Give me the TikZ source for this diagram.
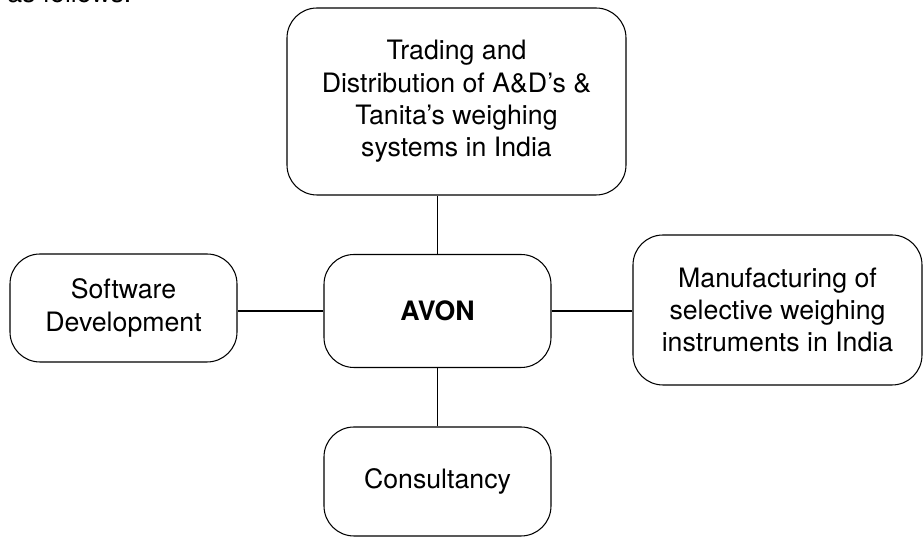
\documentclass[tikz,border=0pt]{standalone}
\usepackage{fontspec}
\setmainfont{TeX Gyre Heros}
\begin{document}
\begin{tikzpicture}[
		box/.style={draw,rectangle,rounded corners=0.6cm,line width=0.6pt,align=center,font=\fontsize{15.2}{18.4}\selectfont},
		link/.style={line width=0.6pt}
		]
	\useasboundingbox (0,0) rectangle (18.46,10.74);

	% Bevezeto szoveg (levagva)
	\node[anchor=base west,inner sep=0pt,font=\fontsize{15.2}{18}\selectfont] (intro) at (0.14,10.69) {as follows:};

	% Kozponti doboz
	% ----------------------
	\node[box, minimum height=2.26cm,minimum width=4.54cm] (AVON) at (8.75,4.52) {\textbf{AVON}};

	% Tevekenysegek
	% ----------------------

		% Kereskedelem
		\node[box, minimum height=3.74cm,minimum width=6.78cm] (Trade) at (9.13,8.71) {Trading and\\ Distribution of A\&D’s \&\\ Tanita’s weighing\\ systems in India};

		% Szoftver
		\node[box, minimum height=2.16cm,minimum width=4.54cm] (Soft) at (2.47,4.58) {Software\\ Development};

		% Gyartas
		\node[box, minimum height=3.0cm,minimum width=5.78cm] (Manu) at (15.55,4.54) {Manufacturing of\\ selective weighing\\ instruments in India};

		% Tanacsadas
		\node[box, minimum height=2.18cm,minimum width=4.54cm] (Cons) at (8.75,1.11) {Consultancy};

	% Kapcsolatok
	\draw[link] (AVON.north) -- (AVON.north |- Trade.south);
	\draw[link] (AVON.west) -- (Soft.east |- AVON.west);
	\draw[link] (AVON.east) -- (Manu.west |- AVON.east);
	\draw[link] (AVON.south) -- (AVON.south |- Cons.north);

\end{tikzpicture}
\end{document}
